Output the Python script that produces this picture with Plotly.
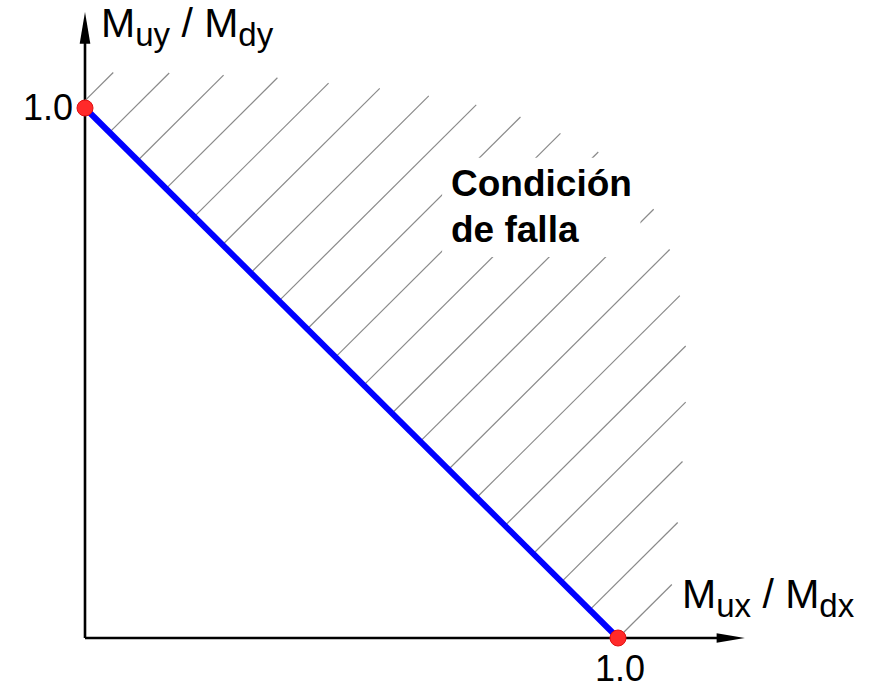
import plotly.graph_objects as go

# Interaction line Mux/Mdx + Muy/Mdy = 1
line_x = [0.0, 1.0]
line_y = [1.0, 0.0]

# Hatch strokes (45 deg) in the failure region: one per index, spaced
# evenly along the line, each running up to its own end abscissa
hatch_count = 20
hatch_step = 0.106
hatch_end_x = [0.053, 0.158, 0.260, 0.361, 0.457, 0.553, 0.645, 0.734, 0.817,
               0.892, 0.963, 1.016, 1.067, 1.097, 1.116, 1.127, 1.127, 1.121,
               1.112, 1.101]

tick_label = "1.0"
SUB = "<sub><span style='font-size:33px'>{}</span></sub>"
x_title = "M" + SUB.format("ux") + " / M" + SUB.format("dx")
y_title = "M" + SUB.format("uy") + " / M" + SUB.format("dy")
region_lines = ["Condición", "de falla"]

FONT = "Liberation Sans, Arial, Helvetica, sans-serif"

hx, hy = [], []
for k in range(hatch_count):
    c = -1 + (hatch_count - 1 - k) * hatch_step   # y - x along the stroke
    x0 = max(0.0, (1 - c) / 2)
    x1 = hatch_end_x[k]
    hx += [x0, x1, None]
    hy += [x0 + c, x1 + c, None]

fig = go.Figure()
fig.add_trace(go.Scatter(x=hx, y=hy, mode="lines",
                         line=dict(color="#8a8a8a", width=1.2),
                         hoverinfo="skip", showlegend=False))
fig.add_trace(go.Scatter(x=line_x, y=line_y, mode="lines",
                         line=dict(color="#0000ff", width=6),
                         showlegend=False))
fig.add_trace(go.Scatter(x=line_x, y=line_y, mode="markers",
                         marker=dict(color="#ff2a2a", size=16,
                                     line=dict(color="#e01010", width=1)),
                         showlegend=False))

x_tip, y_tip = 1.238, 1.181
shapes = [
    dict(type="line", x0=0, y0=0, x1=0, y1=y_tip - 0.03, layer="below",
         line=dict(color="black", width=2.6)),
    dict(type="line", x0=0, y0=0, x1=x_tip - 0.03, y1=0, layer="below",
         line=dict(color="black", width=2.6)),
    dict(type="path", layer="below", fillcolor="black", line=dict(width=0),
         path=f"M {-0.0100} {y_tip - 0.060} L 0 {y_tip} L {0.0100} {y_tip - 0.060} Z"),
    dict(type="path", layer="below", fillcolor="black", line=dict(width=0),
         path=f"M {x_tip - 0.053} {-0.0088} L {x_tip} 0 L {x_tip - 0.053} {0.0088} Z"),
    # clear patch behind the region label
    dict(type="rect", layer="above", x0=0.670, x1=1.042, y0=0.719, y1=0.906,
         fillcolor="white", line=dict(width=0)),
]

annotations = [
    dict(x=0, y=1.0, text=tick_label, showarrow=False, xanchor="right",
         yanchor="middle", xshift=-10, yshift=1,
         font=dict(family=FONT, size=36, color="black")),
    dict(x=1.0, y=0, text=tick_label, showarrow=False, xanchor="center",
         yanchor="top", yshift=-9, xshift=2, borderpad=0,
         font=dict(family=FONT, size=36, color="black")),
    dict(x=0.028, y=1.20, text=y_title, showarrow=False, xanchor="left",
         yanchor="top", yshift=3, borderpad=0,
         font=dict(family=FONT, size=41, color="black")),
    dict(x=1.128, y=0.108, text=x_title, showarrow=False, xanchor="left",
         yanchor="top", xshift=-6, yshift=12,
         font=dict(family=FONT, size=41, color="black")),
    dict(x=0.688, y=0.825, text=f"<b>{region_lines[0]}</b>", showarrow=False,
         xanchor="left", yanchor="bottom", yshift=-5, xshift=-3,
         font=dict(family=FONT, size=37, color="black")),
    dict(x=0.688, y=0.742, text=f"<b>{region_lines[1]}</b>", showarrow=False,
         xanchor="left", yanchor="bottom", yshift=-7, xshift=-3,
         font=dict(family=FONT, size=37, color="black")),
]

fig.update_layout(
    width=873, height=690,
    margin=dict(l=0, r=0, t=0, b=0),
    paper_bgcolor="white", plot_bgcolor="white",
    xaxis=dict(range=[-85 / 533, 788 / 533], visible=False, fixedrange=True),
    yaxis=dict(range=[-52 / 530, 638 / 530], visible=False, fixedrange=True),
    shapes=shapes, annotations=annotations, showlegend=False,
)

fig.write_html("out.html")
